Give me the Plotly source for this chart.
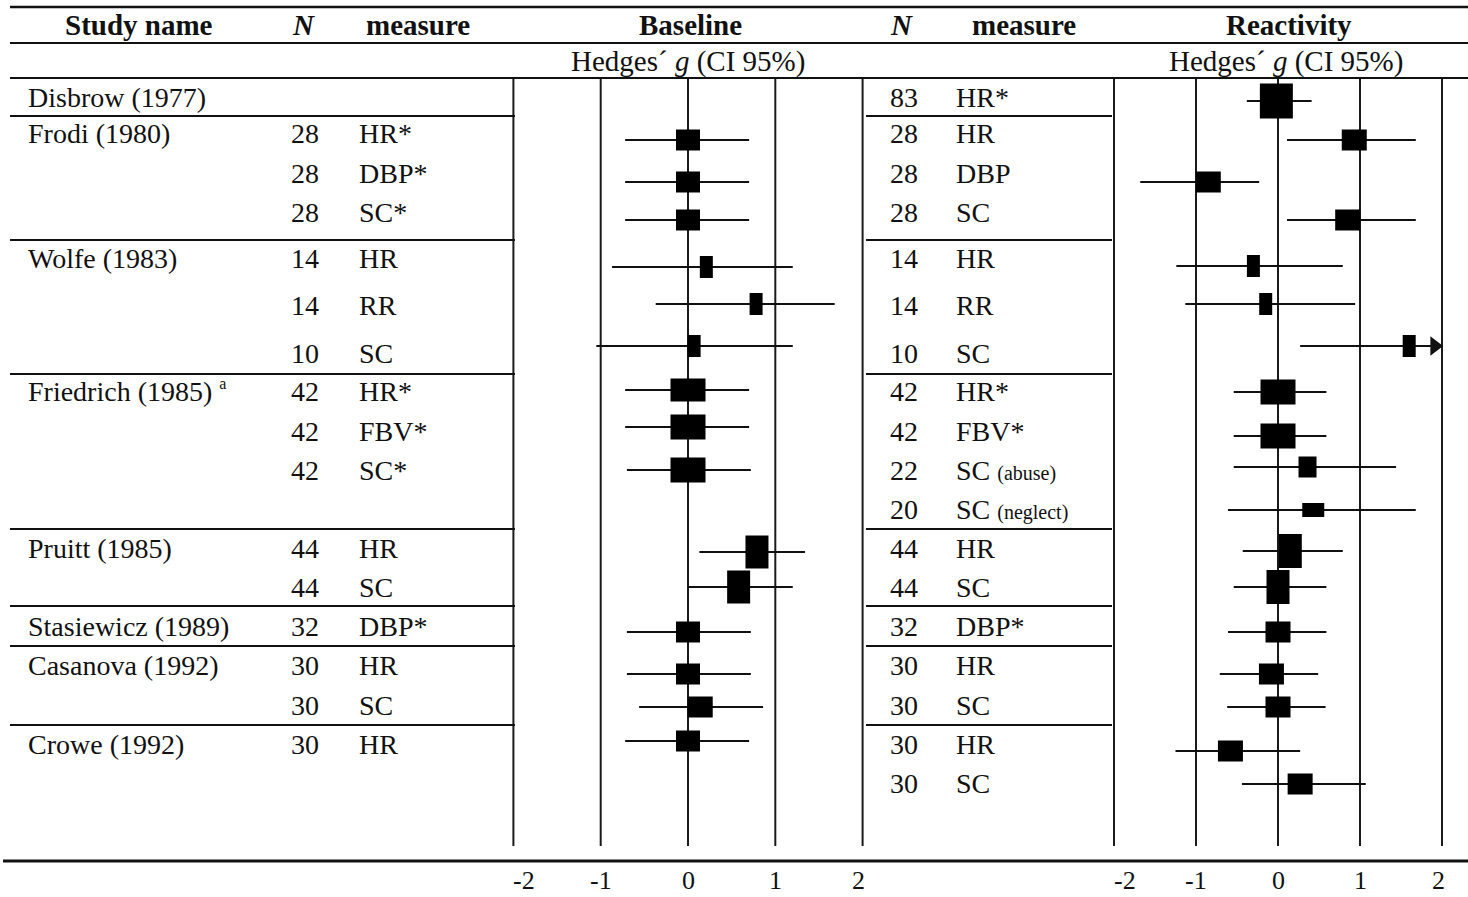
import plotly.graph_objects as go

W, H = 1468, 897

# ------------------------------------------------------------------ data
studies = ["Disbrow (1977)", "Frodi (1980)", "", "", "Wolfe (1983)", "", "",
           "Friedrich (1985)", "", "", "", "Pruitt (1985)", "", "Stasiewicz (1989)",
           "Casanova (1992)", "", "Crowe (1992)", ""]
study_notes = ["", "", "", "", "", "", "", "a", "", "", "", "", "", "", "", "", "", ""]

base_n = ["", "28", "28", "28", "14", "14", "10", "42", "42", "42", "",
          "44", "44", "32", "30", "30", "30", ""]
base_measure = ["", "HR*", "DBP*", "SC*", "HR", "RR", "SC", "HR*", "FBV*", "SC*", "",
                "HR", "SC", "DBP*", "HR", "SC", "HR", ""]
base_g = [None, 0.0, 0.0, 0.0, 0.21, 0.78, 0.07, 0.0, 0.0, 0.0, None,
          0.79, 0.58, 0.0, 0.0, 0.14, 0.0, None]
base_lo = [None, -0.72, -0.72, -0.72, -0.87, -0.37, -1.05, -0.72, -0.72, -0.70, None,
           0.13, 0.0, -0.70, -0.70, -0.56, -0.72, None]
base_hi = [None, 0.70, 0.70, 0.70, 1.20, 1.68, 1.20, 0.70, 0.70, 0.72, None,
           1.34, 1.20, 0.72, 0.72, 0.86, 0.70, None]

react_n = ["83", "28", "28", "28", "14", "14", "10", "42", "42", "22", "20",
           "44", "44", "32", "30", "30", "30", "30"]
react_measure = ["HR*", "HR", "DBP", "SC", "HR", "RR", "SC", "HR*", "FBV*", "SC", "SC",
                 "HR", "SC", "DBP*", "HR", "SC", "HR", "SC"]
react_measure_note = ["", "", "", "", "", "", "", "", "", "(abuse)", "(neglect)",
                      "", "", "", "", "", "", ""]
react_g = [-0.02, 0.93, -0.85, 0.85, -0.30, -0.15, 1.60, 0.0, 0.0, 0.36, 0.43,
           0.15, 0.0, 0.0, -0.08, 0.0, -0.58, 0.27]
react_lo = [-0.38, 0.11, -1.68, 0.11, -1.24, -1.13, 0.27, -0.54, -0.54, -0.54, -0.61,
            -0.43, -0.54, -0.61, -0.71, -0.62, -1.25, -0.44]
react_hi = [0.41, 1.68, -0.23, 1.68, 0.79, 0.94, 2.93, 0.59, 0.59, 1.44, 1.68,
            0.79, 0.59, 0.59, 0.49, 0.58, 0.27, 1.07]

tick_values = [-2, -1, 0, 1, 2]
tick_labels = ["-2", "-1", "0", "1", "2"]

# ------------------------------------------------------------------ layout constants (pixels)
row_text_y = [97, 133, 173, 212, 258, 305, 353, 391, 431, 470, 509, 548, 587, 626, 665, 705, 744, 783]
base_mark_y = [None, 140, 182, 220, 267, 304, 346, 390, 427, 470, None, 552, 587, 632, 674, 707, 741, None]
react_mark_y = [101, 140, 182, 220, 266, 304, 346, 392, 436, 467, 510, 551, 587, 632, 674, 707, 751, 784]
base_box_w = [0, 24, 24, 24, 13, 13, 13, 35, 35, 35, 0, 23, 23, 24, 24, 25, 24, 0]
base_box_h = [0, 21, 21, 21, 22, 22, 22, 23, 25, 25, 0, 33, 33, 21, 21, 21, 21, 0]
react_box_w = [33, 25, 25, 25, 13, 13, 13, 35, 35, 18, 22, 23, 23, 25, 25, 25, 25, 25]
react_box_h = [35, 21, 21, 21, 22, 22, 22, 25, 25, 21, 14, 34, 34, 21, 21, 21, 21, 21]
group_sep_y = [116, 240, 374, 529, 606, 646, 725]

FONT = "Liberation Serif"
FS = 28        # table body
FS_HEAD = 29   # header row
INK = "#111111"

# pixel position of g = 0 and pixels per unit for each panel
BASE_ZERO, BASE_SCALE = 688.0, 87.3
REACT_ZERO, REACT_SCALE = 1278.0, 82.0
XR = 2.15  # axis half-range (slightly wider than +-2 so edge lines are not clipped)
PANEL_TOP, PANEL_BOT = 79, 846


def px(x):
    return x / W


fig = go.Figure()


def ci_trace(g, lo, hi, ys, xaxis):
    xs, yy = [], []
    for gi, l, h, y in zip(g, lo, hi, ys):
        if gi is None:
            continue
        xs += [l, min(h, 1.9), None]
        yy += [y, y, None]
    return go.Scatter(x=xs, y=yy, mode="lines", xaxis=xaxis, yaxis="y",
                      line=dict(color=INK, width=2), hoverinfo="skip", showlegend=False)


fig.add_trace(ci_trace(base_g, base_lo, base_hi, base_mark_y, "x"))
fig.add_trace(ci_trace(react_g, react_lo, react_hi, react_mark_y, "x2"))

# arrows for intervals running past the axis
arr_x, arr_y = [], []
for h, y in zip(react_hi, react_mark_y):
    if h > 2:
        arr_x.append(1.91)
        arr_y.append(y)
fig.add_trace(go.Scatter(x=arr_x, y=arr_y, mode="markers", xaxis="x2", yaxis="y",
                         marker=dict(symbol="triangle-right", size=17, color=INK,
                                     line=dict(width=0)),
                         hoverinfo="skip", showlegend=False))

shapes = []
# panel vertical lines
for xr in ("x", "x2"):
    for v in tick_values:
        shapes.append(dict(type="line", xref=xr, yref="y", x0=v, x1=v,
                           y0=PANEL_TOP, y1=PANEL_BOT, layer="below",
                           line=dict(color="#1a1a1a", width=2)))


def boxes(g, ys, ws, hs, xr):
    for gi, y, w, h in zip(g, ys, ws, hs):
        if gi is None:
            continue
        shapes.append(dict(type="rect", xref=xr, yref="y",
                           xsizemode="pixel", xanchor=gi, x0=-w / 2, x1=w / 2,
                           ysizemode="pixel", yanchor=y, y0=-h / 2, y1=h / 2,
                           fillcolor="black", line=dict(width=0), layer="above"))


boxes(base_g, base_mark_y, base_box_w, base_box_h, "x")
boxes(react_g, react_mark_y, react_box_w, react_box_h, "x2")

# header rules
for y, wdt in ((7, 2.5), (43, 2.2), (78, 2.2)):
    shapes.append(dict(type="line", xref="paper", yref="y", x0=px(10), x1=1,
                       y0=y, y1=y, line=dict(color=INK, width=wdt)))
# bottom rule
shapes.append(dict(type="line", xref="paper", yref="y", x0=px(3), x1=1,
                   y0=861, y1=861, line=dict(color=INK, width=3)))
# group separators
for y in group_sep_y:
    shapes.append(dict(type="line", xref="paper", yref="y", x0=px(10), x1=px(515),
                       y0=y, y1=y, line=dict(color=INK, width=2)))
    shapes.append(dict(type="line", xref="paper", yref="y", x0=px(866), x1=px(1112),
                       y0=y, y1=y, line=dict(color=INK, width=2)))

ann = []


def text(x, y, s, anchor="left", size=FS, xref="paper", **kw):
    ann.append(dict(x=x, y=y, xref=xref, yref="y", text=s, showarrow=False,
                    xanchor=anchor, yanchor="middle",
                    font=dict(family=FONT, size=size, color=INK), **kw))


# column headers
hy = 25
text(px(139), hy, "<b>Study name</b>", "center", FS_HEAD)
text(px(303), hy, "<b><i>N</i></b>", "center", FS_HEAD)
text(px(418), hy, "<b>measure</b>", "center", FS_HEAD)
text(px(690), hy, "<b>Baseline</b>", "center", FS_HEAD)
text(px(901), hy, "<b><i>N</i></b>", "center", FS_HEAD)
text(px(1024), hy, "<b>measure</b>", "center", FS_HEAD)
text(px(1289), hy, "<b>Reactivity</b>", "center", FS_HEAD)
text(px(688), 61, "Hedges´ <i>g</i> (CI 95%)", "center", FS_HEAD)
text(px(1286), 61, "Hedges´ <i>g</i> (CI 95%)", "center", FS_HEAD)

# table body
for i, y in enumerate(row_text_y):
    if studies[i]:
        s = studies[i]
        if study_notes[i]:
            s += " <sup><span style='font-size:16px'>" + study_notes[i] + "</span></sup>"
        text(px(26), y, s)
    if base_n[i]:
        text(px(289), y, base_n[i])
    if base_measure[i]:
        text(px(357), y, base_measure[i])
    text(px(888), y, react_n[i])
    m = react_measure[i]
    if react_measure_note[i]:
        m += " <span style='font-size:20px'>" + react_measure_note[i] + "</span>"
    text(px(954), y, m)

# tick labels
for xr in ("x", "x2"):
    for v, lab in zip(tick_values, tick_labels):
        shift = 11 if v == -2 else (-4 if v == 2 else 0)
        ann.append(dict(x=v, y=880, xref=xr, yref="y", text=lab, showarrow=False,
                        xanchor="center", yanchor="middle", xshift=shift,
                        font=dict(family=FONT, size=26, color=INK)))

fig.update_layout(
    width=W, height=H, autosize=False,
    margin=dict(l=0, r=0, t=0, b=0, pad=0),
    paper_bgcolor="white", plot_bgcolor="white",
    showlegend=False,
    xaxis=dict(domain=[px(BASE_ZERO - XR * BASE_SCALE), px(BASE_ZERO + XR * BASE_SCALE)],
               range=[-XR, XR], visible=False, fixedrange=True, anchor="y"),
    xaxis2=dict(domain=[px(REACT_ZERO - XR * REACT_SCALE), px(REACT_ZERO + XR * REACT_SCALE)],
                range=[-XR, XR], visible=False, fixedrange=True, anchor="y"),
    yaxis=dict(domain=[0, 1], range=[H, 0], visible=False, fixedrange=True),
    shapes=shapes,
    annotations=ann,
)

fig.write_html("out.html", config={"displayModeBar": False},
               post_script="document.body.style.margin='0';document.body.style.overflow='hidden';")
